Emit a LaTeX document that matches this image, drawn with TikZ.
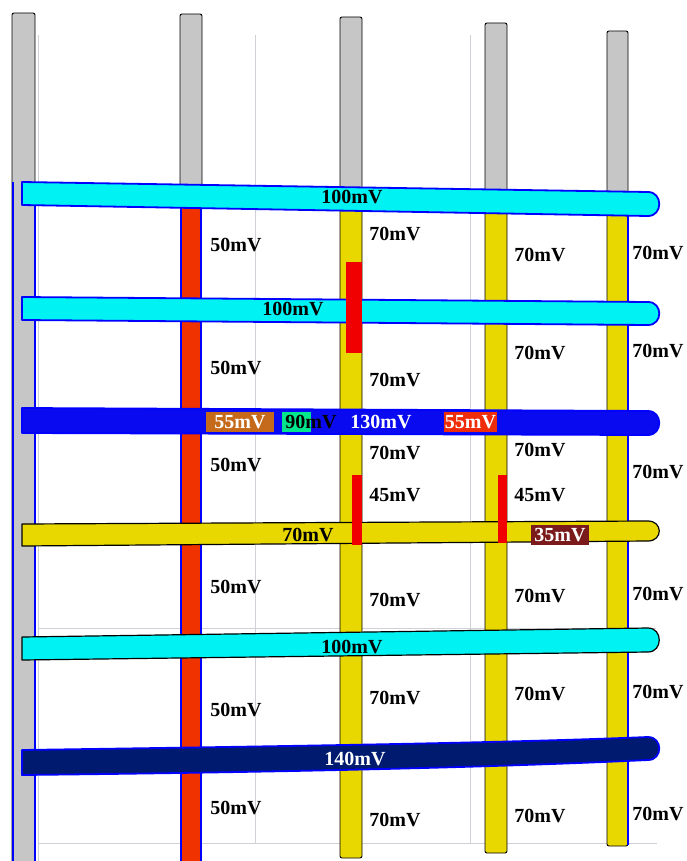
\documentclass[tikz,border=0pt]{standalone}
\usepackage{fontspec}
\setmainfont{Liberation Serif}
\usetikzlibrary{positioning}

\definecolor{pillargray}{RGB}{198,198,198}
\definecolor{gridgray}{RGB}{208,208,214}
\definecolor{railcyan}{RGB}{0,242,242}
\definecolor{railblue}{RGB}{10,10,240}
\definecolor{railnavy}{RGB}{0,26,112}
\definecolor{railyellow}{RGB}{232,216,0}
\definecolor{strapred}{RGB}{240,50,0}
\definecolor{hotred}{RGB}{240,0,0}
\definecolor{tagorange}{RGB}{196,106,26}
\definecolor{taggreen}{RGB}{0,230,140}
\definecolor{tagred}{RGB}{240,45,10}
\definecolor{tagmaroon}{RGB}{122,26,26}

\begin{document}
\begin{tikzpicture}[x=1pt, y=-1pt,
  volt/.style={font=\fontsize{20}{24}\selectfont\bfseries, inner sep=0pt},
  tag/.style={volt, text=white, minimum height=20pt},
  gridline/.style={gridgray, line width=1pt},
  pillar/.style={draw=black, line width=0.9pt, rounded corners=2pt},
  edge/.style={blue, line width=2pt},
  rail/.style={line width=1.8pt, line join=round}]
\useasboundingbox (0,0) rectangle (686,861);
\clip (0,0) rectangle (686,861);

% Background grid
\draw[gridline] (38,35) -- (38,861);
\draw[gridline] (255,35) -- (255,843);
\draw[gridline] (470,35) -- (470,843);
\draw[gridline] (38,628) -- (656,628);
\draw[gridline] (38,843) -- (657,843);

% Vertical stripes, upper parts
\draw[pillar, fill=pillargray] (12,880) -- (12,13) -- (35,13) -- (35,880);
\draw[pillar, fill=pillargray] (180,200) -- (180,14) -- (202,14) -- (202,200) -- cycle;
\draw[pillar, fill=pillargray] (340,205) -- (340,17) -- (362,17) -- (362,205) -- cycle;
\draw[pillar, fill=pillargray] (485,205) -- (485,23) -- (507,23) -- (507,205) -- cycle;
\draw[pillar, fill=pillargray] (607,205) -- (607,31) -- (628,31) -- (628,205) -- cycle;

% Vertical stripes, lower parts
\draw[edge] (12.5,182) -- (12.5,861);
\draw[edge] (34.5,205) -- (34.5,861);
\draw[fill=strapred, draw=blue, line width=2pt] (181,195) rectangle (201,880);
\draw[pillar, fill=railyellow] (340,200) -- (340,858) -- (362,858) -- (362,200);
\draw[pillar, fill=railyellow] (485,200) -- (485,853) -- (507,853) -- (507,200);
\draw[pillar, fill=railyellow] (607,200) -- (607,846) -- (628,846) -- (628,200);
\draw[edge] (628,205) -- (628,845);

% Horizontal rails
\draw[rail, fill=railcyan, draw=blue] (22,182) -- (648,192) .. controls (663,192) and (663,216) .. (648,216) -- (22,205) -- cycle;
\draw[rail, fill=railcyan, draw=blue] (22,297) -- (648,302) .. controls (663,302) and (663,325) .. (648,325) -- (22,320) -- cycle;
\draw[rail, fill=railblue, draw=blue] (22,408) -- (648,411) .. controls (663,411) and (663,435) .. (648,435) -- (22,433) -- cycle;
\draw[rail, fill=railyellow, draw=black, line width=1.2pt] (22,524) -- (648,521) .. controls (663,521) and (663,541) .. (648,541) -- (22,546) -- cycle;
\draw[rail, fill=railcyan, draw=black, line width=1.2pt] (22,637) -- (648,628) .. controls (663,628) and (663,652) .. (648,652) -- (22,660) -- cycle;
\draw[rail, fill=railnavy, draw=blue] (22,750) .. controls (300,746) and (500,743) .. (648,737) .. controls (663,737) and (663,760) .. (648,760) .. controls (500,767) and (300,772) .. (22,775) -- cycle;

% Hot spots
\fill[hotred] (346,262) rectangle (362,353);
\fill[hotred] (352,475) rectangle (362,545);
\fill[hotred] (498,475) rectangle (507,543);

% Rail values
\node[volt] (rail-a) at (352,197) {100mV};
\node[volt] (rail-b) at (293,309) {100mV};
\node[tag, fill=tagorange, minimum width=68pt] (tag-a) at (240,422) {55mV};
\fill[taggreen] (282,412) rectangle (311,432);
\node[volt] (tag-b) at (311,422) {90mV};
\node[volt, text=white] (rail-c) at (381,422) {130mV};
\node[tag, fill=tagred, minimum width=53pt] (tag-c) at (470.5,422) {55mV};
\node[volt] (rail-d) at (308,535) {70mV};
\node[tag, fill=tagmaroon, minimum width=58pt] (tag-d) at (560,535) {35mV};
\node[volt] (rail-e) at (352,647) {100mV};
\node[volt, text=white] (rail-f) at (355,759) {140mV};

% Stripe values
\foreach \y [count=\i] in {245,368,465,587,710,808}
  \node[volt] (col-a\i) at (236,\y) {50mV};
\foreach \y/\v [count=\i] in {234/70,380/70,453/70,495/45,600/70,698/70,820/70}
  \node[volt] (col-b\i) at (395,\y) {\v mV};
\foreach \y/\v [count=\i] in {255/70,353/70,450/70,495/45,596/70,694/70,816/70}
  \node[volt] (col-c\i) at (540,\y) {\v mV};
\foreach \y [count=\i] in {253,351,472,594,692,814}
  \node[volt] (col-d\i) at (658,\y) {70mV};

\end{tikzpicture}
\end{document}
